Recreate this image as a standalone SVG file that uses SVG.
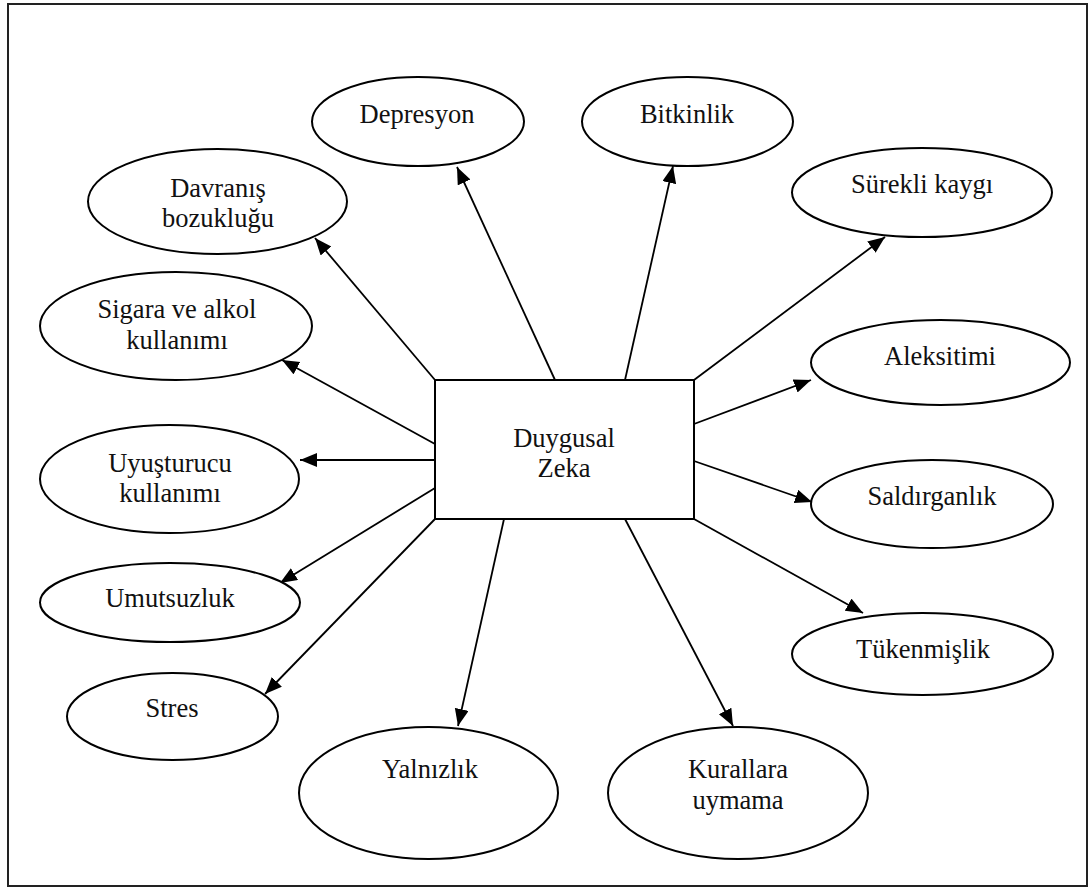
<svg xmlns="http://www.w3.org/2000/svg" width="1091" height="888" viewBox="0 0 1091 888">
  <defs>
    <marker id="arrow" markerUnits="userSpaceOnUse" markerWidth="18" markerHeight="15" refX="17" refY="7" orient="auto">
      <path d="M0,0 L17,7 L0,14 Z" fill="#000"/>
    </marker>
    <style>
      .node { fill: #fff; stroke: #000; stroke-width: 2; }
      .label { font-size: 26.5px; fill: #111; text-anchor: middle; }
      .edge { stroke: #000; stroke-width: 1.8; fill: none; marker-end: url(#arrow); }
    </style>
  </defs>

  <rect x="0" y="0" width="1091" height="888" fill="#fff"/>
  <!-- frame -->
  <rect x="8" y="4" width="1079" height="882" fill="none" stroke="#222" stroke-width="2"/>

  <!-- connectors from the central box -->
  <g id="connectors">
    <line class="edge" x1="435" y1="380" x2="315" y2="238"/>
    <line class="edge" x1="555" y1="380" x2="457" y2="167"/>
    <line class="edge" x1="625" y1="380" x2="673" y2="166"/>
    <line class="edge" x1="694" y1="380" x2="885" y2="237"/>
    <line class="edge" x1="694" y1="424" x2="811" y2="380"/>
    <line class="edge" x1="694" y1="461" x2="812" y2="502"/>
    <line class="edge" x1="694" y1="519" x2="863" y2="613"/>
    <line class="edge" x1="625" y1="519" x2="733" y2="726"/>
    <line class="edge" x1="504" y1="519" x2="458" y2="726"/>
    <line class="edge" x1="435" y1="519" x2="265" y2="694"/>
    <line class="edge" x1="435" y1="488" x2="280" y2="583"/>
    <line class="edge" x1="435" y1="460" x2="300" y2="460"/>
    <line class="edge" x1="435" y1="444" x2="282" y2="360"/>
  </g>

  <g font-family="'Liberation Serif', 'Times New Roman', 'DejaVu Serif', serif">
    <g id="duygusal-zeka">
      <rect class="node" x="435" y="380" width="259" height="139"/>
      <text class="label" x="564" y="447">Duygusal</text>
      <text class="label" x="564" y="477">Zeka</text>
    </g>

    <g id="davranis-bozuklugu">
      <ellipse class="node" cx="217.5" cy="201.5" rx="129.5" ry="52.5"/>
      <text class="label" x="218" y="197">Davranış</text>
      <text class="label" x="218" y="227">bozukluğu</text>
    </g>

    <g id="depresyon">
      <ellipse class="node" cx="418" cy="121.5" rx="106" ry="44.5"/>
      <text class="label" x="417" y="123">Depresyon</text>
    </g>

    <g id="bitkinlik">
      <ellipse class="node" cx="687.5" cy="121.5" rx="105.5" ry="44.5"/>
      <text class="label" x="687" y="123">Bitkinlik</text>
    </g>

    <g id="surekli-kaygi">
      <ellipse class="node" cx="922" cy="192.5" rx="130" ry="44.5"/>
      <text class="label" x="922" y="193">Sürekli kaygı</text>
    </g>

    <g id="aleksitimi">
      <ellipse class="node" cx="940.5" cy="362.5" rx="129.5" ry="42.5"/>
      <text class="label" x="940" y="365">Aleksitimi</text>
    </g>

    <g id="saldirganlik">
      <ellipse class="node" cx="932" cy="504" rx="121" ry="44"/>
      <text class="label" x="932" y="505">Saldırganlık</text>
    </g>

    <g id="tukenmislik">
      <ellipse class="node" cx="922.5" cy="654" rx="130.5" ry="41"/>
      <text class="label" x="923" y="658">Tükenmişlik</text>
    </g>

    <g id="kurallara-uymama">
      <ellipse class="node" cx="738" cy="793" rx="130" ry="66"/>
      <text class="label" x="738" y="778">Kurallara</text>
      <text class="label" x="738" y="809">uymama</text>
    </g>

    <g id="yalnizlik">
      <ellipse class="node" cx="428.5" cy="793" rx="129.5" ry="66"/>
      <text class="label" x="430" y="778">Yalnızlık</text>
    </g>

    <g id="stres">
      <ellipse class="node" cx="172.5" cy="716.5" rx="105.5" ry="43.5"/>
      <text class="label" x="172" y="717">Stres</text>
    </g>

    <g id="umutsuzluk">
      <ellipse class="node" cx="170" cy="602.5" rx="130" ry="39.5"/>
      <text class="label" x="170" y="607">Umutsuzluk</text>
    </g>

    <g id="uyusturucu-kullanimi">
      <ellipse class="node" cx="169.5" cy="479" rx="129.5" ry="54"/>
      <text class="label" x="170" y="472">Uyuşturucu</text>
      <text class="label" x="170" y="502">kullanımı</text>
    </g>

    <g id="sigara-ve-alkol">
      <ellipse class="node" cx="176" cy="326" rx="136" ry="54"/>
      <text class="label" x="177" y="318">Sigara ve alkol</text>
      <text class="label" x="177" y="349">kullanımı</text>
    </g>
  </g>
</svg>
